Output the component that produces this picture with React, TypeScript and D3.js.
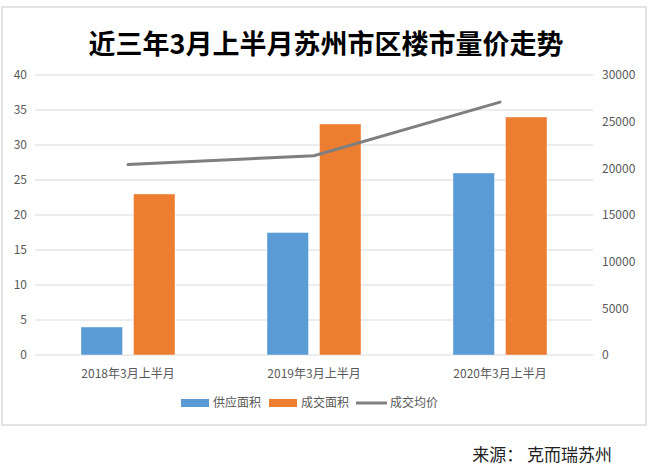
import React from "react";
import * as d3 from "d3";

const categories = ["2018年3月上半月", "2019年3月上半月", "2020年3月上半月"];
const supplyArea = [4, 17.5, 26];
const dealArea = [23, 33, 34];
const avgPrice = [20400, 21350, 27100];
const leftTicks = [0, 5, 10, 15, 20, 25, 30, 35, 40];
const rightTicks = [0, 5000, 10000, 15000, 20000, 25000, 30000];
const seriesNames = ["供应面积", "成交面积", "成交均价"];

const W = 650;
const H = 468;
const plotLeft = 35;
const plotRight = 593;
const plotTop = 75;
const plotBottom = 355;
const font = "'Noto Sans CJK SC', 'Noto Sans', sans-serif";

export default function App() {
  const x = d3.scaleBand<string>().domain(categories).range([plotLeft, plotRight]);
  const yL = d3.scaleLinear().domain([0, 40]).range([plotBottom, plotTop]);
  const yR = d3.scaleLinear().domain([0, 30000]).range([plotBottom, plotTop]);
  const barW = 41.5;
  const gap = 11;
  const cx = (c: string) => (x(c) as number) + x.bandwidth() / 2;
  const line = d3
    .line<number>()
    .x((_, i) => cx(categories[i]))
    .y((d) => yR(d));

  return (
    <svg
      width={W}
      height={H}
      style={{ position: "absolute", left: 0, top: 0, background: "#fff" }}
    >
      <rect x={2} y={7} width={644} height={418} fill="#fff" stroke="#D9D9D9" strokeWidth={1.5} />
      <text
        x={326}
        y={54}
        textAnchor="middle"
        fontFamily={font}
        fontWeight="bold"
        fontSize={27}
        fill="#000"
      >
        近三年3月上半月苏州市区楼市量价走势
      </text>
      {leftTicks.map((t) => (
        <g key={"l" + t}>
          <line x1={plotLeft} x2={plotRight} y1={yL(t)} y2={yL(t)} stroke="#D9D9D9" strokeWidth={1} />
          <text
            x={27}
            y={yL(t)}
            dy="0.35em"
            textAnchor="end"
            fontFamily={font}
            fontSize={12}
            fill="#595959"
          >
            {t}
          </text>
        </g>
      ))}
      {rightTicks.map((t) => (
        <text
          key={"r" + t}
          x={602}
          y={yR(t)}
          dy="0.35em"
          textAnchor="start"
          fontFamily={font}
          fontSize={12}
          fill="#595959"
        >
          {t}
        </text>
      ))}
      {categories.map((c, i) => (
        <g key={c}>
          <rect
            x={cx(c) - gap / 2 - barW}
            y={yL(supplyArea[i])}
            width={barW}
            height={plotBottom - yL(supplyArea[i])}
            fill="#5B9BD5"
            stroke="#fff"
            strokeOpacity={0.6}
            strokeWidth={0.7}
          />
          <rect
            x={cx(c) + gap / 2}
            y={yL(dealArea[i])}
            width={barW}
            height={plotBottom - yL(dealArea[i])}
            fill="#ED7D31"
            stroke="#fff"
            strokeOpacity={0.6}
            strokeWidth={0.7}
          />
          <text
            x={cx(c)}
            y={378}
            textAnchor="middle"
            fontFamily={font}
            fontSize={12}
            fill="#595959"
          >
            {c}
          </text>
        </g>
      ))}
      <path d={line(avgPrice) || ""} fill="none" stroke="#7F7F7F" strokeWidth={3} strokeLinecap="round" />
      <g fontFamily={font} fontSize={12} fill="#595959">
        <rect x={181} y={399} width={28} height={8} fill="#5B9BD5" />
        <text x={213} y={403} dy="0.35em">{seriesNames[0]}</text>
        <rect x={269} y={399} width={28} height={8} fill="#ED7D31" />
        <text x={301} y={403} dy="0.35em">{seriesNames[1]}</text>
        <line x1={356} x2={387} y1={403} y2={403} stroke="#7F7F7F" strokeWidth={3} />
        <text x={390} y={403} dy="0.35em">{seriesNames[2]}</text>
      </g>
      <text
        x={612}
        y={455}
        dy="0.35em"
        textAnchor="end"
        fontFamily={font}
        fontSize={17}
        fill="#222"
      >
        来源： 克而瑞苏州
      </text>
    </svg>
  );
}
